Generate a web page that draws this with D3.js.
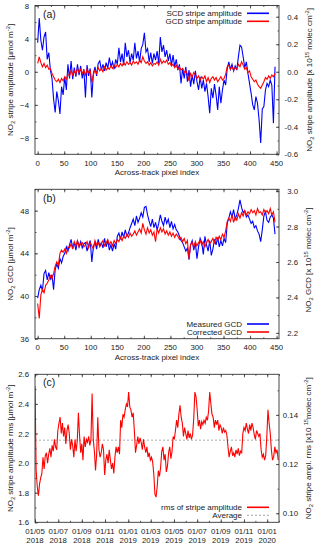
<!DOCTYPE html>
<html><head><meta charset="utf-8">
<script src="https://cdn.jsdelivr.net/npm/d3@7"></script>
<style>
body{margin:0;background:#fff}
svg{display:block}
text{font-family:"Liberation Sans",Arial,Helvetica,sans-serif;fill:#1a1a1a}
</style>
</head><body>
<svg id="chart" width="320" height="545"></svg>
<script>
// ---------- DATA ----------
const pixelIndex = d3.range(0, 450, 3);           // across-track pixel index (every 3rd)
const xTicksPix = [0,50,100,150,200,250,300,350,400,450];

// (a) stripe amplitude [µmol m-2]
const scdAmp = [
 3.5,6.5,3.8,2.6,4.2,4.8,1.5,2.3,0.2,-0.8,
 -3.3,-4.9,-2.4,-3.5,-5.1,-1.8,-2.8,-0.6,-2.2,0.9,
 -0.8,1.3,-0.9,0.5,-0.6,0.9,-0.4,0.7,-0.8,0.3,
 -3.1,0.8,-0.5,0.4,-3.1,-0.2,0.6,-0.5,1.0,1.3,
 0.2,0.9,0.1,1.1,0.4,1.7,0.6,1.2,0.3,1.5,
 0.9,2.9,1.2,2.2,0.8,3.5,1.8,2.6,1.1,2.2,
 1.4,3.5,1.6,2.5,1.2,2.8,3.3,4.7,2.4,2.8,
 1.2,2.3,1.0,2.2,1.4,2.5,1.0,4.2,2.4,3.2,
 1.8,2.6,1.3,2.2,0.8,2.0,0.6,1.5,0.2,0.9,
 -1.4,0.4,-0.8,0.6,-1.2,0.2,-1.8,-0.4,-1.5,0.1,
 -1.2,-2.2,-0.6,-2.0,-1.0,-2.4,-1.4,-3.0,-5.0,-2.0,
 -3.2,-1.5,-2.8,-4.6,-1.8,-3.8,-2.2,-1.0,-1.6,0.4,
 1.2,0.3,0.9,0.1,0.7,0.2,1.8,3.2,3.0,1.8,
 0.5,1.2,-0.2,-1.4,-2.6,-4.0,-4.6,-3.0,-3.8,-5.8,
 -8.6,-4.5,-4.2,-2.2,-1.4,-1.8,-1.0,-1.6,-6.2,0.6];
const gcdAmp = [
 1.0,1.8,1.1,0.6,1.0,0.5,0.8,0.3,0.4,-0.2,
 -0.6,-1.0,-1.2,-0.9,-1.3,-0.8,-1.1,-0.6,-0.9,-0.3,
 -0.5,0.2,-0.4,0.1,-0.3,0.4,-0.1,0.3,-0.2,0.2,
 -0.4,0.3,-0.1,0.1,-1.3,-0.3,0.2,-0.2,0.5,0.1,
 0.4,0.0,0.6,0.2,0.5,0.3,0.7,0.4,0.8,0.5,
 0.9,0.6,1.0,0.7,1.1,0.8,1.2,0.9,1.1,0.8,
 1.3,1.0,1.2,0.9,1.4,1.1,1.8,1.3,1.0,1.2,
 0.8,1.1,0.7,1.0,0.9,1.2,0.8,1.5,1.0,1.3,
 1.1,1.4,0.9,1.1,0.7,0.9,0.5,0.8,0.3,0.6,
 0.2,0.4,-0.1,0.2,-0.3,-1.1,-0.2,-0.6,-0.1,-0.4,
 -0.8,-0.5,-1.0,-0.6,-0.9,-0.5,-1.2,-0.7,-1.3,-0.8,
 -0.6,-1.0,-0.7,-1.2,-0.9,-0.6,-1.0,-0.8,-0.3,0.6,
 0.8,0.3,0.6,0.2,0.5,0.3,0.9,0.6,1.2,0.8,
 0.3,0.5,-0.1,0.1,-0.6,-0.9,-1.2,-1.0,-1.5,-1.8,
 -2.0,-1.6,-1.2,-0.7,-0.9,-0.5,-0.8,-0.4,-0.6,-0.2];

// (b) geometric column density [µmol m-2]
const measuredGCD = [
 39.8,40.6,41.0,40.5,42.1,42.4,41.5,42.2,41.6,42.0,
 40.6,42.5,43.0,42.6,43.5,43.1,43.7,44.0,44.6,44.2,
 44.8,45.3,44.5,45.0,44.3,45.2,44.6,45.1,44.5,44.9,
 45.0,44.2,44.8,45.2,43.2,44.6,45.1,44.4,45.3,44.7,
 45.0,44.5,45.4,44.6,45.2,44.3,44.8,44.2,44.9,44.4,
 45.6,45.9,45.3,46.0,45.5,46.2,45.6,45.9,46.4,46.8,
 47.2,46.6,47.5,46.9,47.3,47.8,47.4,48.3,48.4,47.6,
 47.0,46.5,47.2,46.4,46.9,46.2,46.8,47.6,47.0,46.6,
 47.4,46.8,47.2,46.4,47.0,46.3,46.7,46.2,46.0,45.6,
 45.2,45.0,44.6,44.2,44.5,43.4,44.8,45.2,44.3,45.0,
 43.5,44.6,45.4,45.0,43.9,45.6,44.8,44.2,45.2,43.8,
 44.4,45.3,44.8,45.5,44.6,45.2,44.7,45.4,45.0,46.8,
 47.3,47.9,47.4,48.1,47.2,47.6,48.2,49.0,48.3,47.8,
 48.0,47.4,47.6,47.2,46.8,47.0,46.4,46.6,46.1,45.8,
 45.1,46.2,47.5,47.9,47.1,46.9,47.4,47.6,47.3,45.8];
const correctedGCD = [
 39.3,37.9,40.1,40.6,40.3,41.0,41.2,41.5,41.9,41.6,
 42.1,42.8,43.2,42.9,44.0,44.3,44.1,44.4,44.0,44.6,
 44.5,44.9,44.4,45.1,44.7,45.2,44.6,44.9,45.0,44.6,
 44.8,45.1,44.5,45.0,44.7,44.4,45.2,44.8,45.0,44.6,
 44.9,45.2,44.7,45.0,45.3,44.8,45.1,44.7,45.2,44.9,
 45.3,45.1,45.5,45.2,45.6,45.4,45.8,45.5,45.9,45.6,
 45.8,46.1,45.7,46.0,46.3,45.9,46.8,46.2,45.8,46.4,
 45.9,46.2,45.7,46.0,45.1,46.3,45.9,46.4,46.0,46.3,
 45.8,46.1,45.7,46.0,45.6,45.9,45.5,45.8,45.6,45.3,
 45.5,45.1,45.4,44.9,45.2,43.5,44.8,45.0,44.6,45.1,
 44.7,45.0,45.2,44.8,45.1,44.6,45.0,45.3,44.9,45.1,
 45.4,45.0,45.5,45.2,45.6,45.3,45.8,45.5,46.1,47.0,
 47.3,47.0,47.6,46.9,47.4,47.1,47.7,47.3,47.8,47.5,
 48.0,47.6,47.9,47.7,48.1,47.8,48.0,47.6,48.2,47.8,
 47.9,47.6,48.1,47.8,48.0,47.7,48.2,47.6,47.9,46.9];

// (c) rms of stripe amplitude [µmol m-2], every 3rd day from 2018-05-01
const rmsStart = Date.UTC(2018, 4, 1);
const rmsAmp = [
 2.52,1.95,1.84,1.78,1.86,1.90,1.93,2.04,1.96,2.05,
 2.07,2.00,2.06,2.10,2.04,2.12,2.08,2.16,2.11,2.09,
 2.22,2.27,2.31,2.20,2.27,2.18,2.24,2.13,2.22,2.26,
 2.20,2.09,2.16,2.12,2.04,2.16,2.08,2.15,2.34,2.19,
 2.07,2.13,2.02,2.18,2.11,2.16,2.14,2.18,2.12,2.16,
 2.47,2.16,2.08,1.95,2.06,2.31,2.09,2.04,2.07,2.13,
 2.09,1.92,2.02,2.06,2.00,2.09,2.02,1.96,2.00,1.93,
 2.04,2.11,2.07,2.11,2.06,2.29,2.24,2.33,2.31,2.36,
 2.40,2.38,2.48,2.38,2.36,2.31,2.34,2.22,2.07,2.12,
 2.18,2.13,2.17,2.14,2.09,2.16,2.11,2.07,2.11,2.04,
 2.07,2.02,2.04,2.01,1.93,1.79,1.77,1.84,1.95,1.91,
 1.97,2.08,2.11,2.02,2.06,1.94,1.98,2.07,2.11,2.03,
 2.08,2.18,2.16,2.22,2.29,2.24,2.33,2.39,2.31,2.27,
 2.18,2.24,2.20,2.16,2.22,2.17,2.20,2.16,2.19,2.30,
 2.48,2.45,2.36,2.25,2.29,2.23,2.28,2.26,2.29,2.27,
 2.31,2.29,2.35,2.48,2.40,2.33,2.31,2.24,2.29,2.26,
 2.29,2.22,2.26,2.24,2.20,2.24,2.21,2.22,2.19,2.11,
 2.04,2.08,2.11,2.05,2.07,2.04,2.09,2.06,2.10,2.05,
 2.08,2.07,2.20,2.24,2.22,2.27,2.23,2.20,2.26,2.22,
 2.27,2.24,2.19,2.16,2.22,2.20,2.18,2.20,2.09,2.04,
 2.06,2.02,2.05,2.18,2.36,2.27,2.20,2.09,2.02,2.04,
 2.11,2.07,2.09,2.02];
const rmsDates = rmsAmp.map((v,i) => d3.utcDay.offset(new Date(rmsStart), i*3));
const rmsAverage = 2.155;

const CONV = 0.0602;   // 1 µmol m-2 = 0.0602 x 10^15 molec cm-2

// ---------- LAYOUT ----------
const L = 35, R = 279;
const svg = d3.select("#chart");
svg.append("rect").attr("width",320).attr("height",545).attr("fill","#fff");
const FRAME = "#333";
const TICKF = 7.8, LABF = 8;
const BLUE = "#0000ff", RED = "#ff0000";

const xPix = d3.scaleLinear().domain([-5, 454.5]).range([L, R]);
const xDate = d3.scaleUtc().domain([new Date(Date.UTC(2018,4,1)), new Date(Date.UTC(2020,1,1))]).range([L, R]);

function styleAxis(g){
  g.select(".domain").remove();
  g.selectAll("line").attr("stroke", FRAME).attr("stroke-width",0.8);
  g.selectAll("text").attr("font-size", TICKF).attr("fill","#1a1a1a")
   .attr("font-family",'"Liberation Sans",Arial,sans-serif');
}

// rich text: array of [str, kind] kind: n | sub | sup
function richText(sel, parts, fs){
  let shift = 0;
  parts.forEach(([s,k]) => {
    const t = sel.append("tspan").text(s);
    let target = k==="sub" ? 1.8 : k==="sup" ? -3 : 0;
    t.attr("dy", target - shift); shift = target;
    if (k!=="n") t.attr("font-size", fs*0.72);
  });
}

function yTitle(x, yc, parts){
  const t = svg.append("text").attr("transform",`translate(${x},${yc}) rotate(-90)`)
    .attr("text-anchor","middle").attr("font-size",LABF);
  richText(t, parts, LABF);
}

function panel(cfg){
  const {top, bottom, yL, yR, ticksL, minorL, ticksR, minorR, fmtL, fmtR, x, xMajor, xMinor} = cfg;
  svg.append("rect").attr("x",L).attr("y",top).attr("width",R-L).attr("height",bottom-top)
     .attr("fill","none").attr("stroke",FRAME).attr("stroke-width",0.9);
  svg.append("g").attr("transform",`translate(${L},0)`)
    .call(d3.axisLeft(yL).tickValues(minorL).tickSize(-1.5).tickFormat("")).call(styleAxis);
  svg.append("g").attr("transform",`translate(${L},0)`)
    .call(d3.axisLeft(yL).tickValues(ticksL).tickSize(-3).tickPadding(6).tickFormat(fmtL)).call(styleAxis);
  svg.append("g").attr("transform",`translate(${R},0)`)
    .call(d3.axisRight(yR).tickValues(minorR).tickSize(-1.5).tickFormat("")).call(styleAxis);
  const gr = svg.append("g").attr("transform",`translate(${R},0)`)
    .call(d3.axisRight(yR).tickValues(ticksR).tickSize(-3).tickFormat(fmtR)).call(styleAxis);
  gr.selectAll("text").attr("text-anchor","end").attr("x",19);
  [[top, 1],[bottom, -1]].forEach(([yy, dir])=>{
    svg.append("g").attr("transform",`translate(0,${yy})`)
      .call((dir>0 ? d3.axisTop(x) : d3.axisBottom(x)).tickValues(xMinor).tickSize(-1.5).tickFormat("")).call(styleAxis);
    svg.append("g").attr("transform",`translate(0,${yy})`)
      .call((dir>0 ? d3.axisTop(x) : d3.axisBottom(x)).tickValues(xMajor).tickSize(-3).tickFormat("")).call(styleAxis);
  });
}

function legend(y0, items){
  items.forEach((it,i)=>{
    const y = y0 + i*8;
    svg.append("text").attr("x",242).attr("y",y).attr("dy","0.35em")
      .attr("text-anchor","end").attr("font-size",LABF).text(it.label);
    svg.append("line").attr("x1",247).attr("x2",269).attr("y1",y).attr("y2",y)
      .attr("stroke",it.color).attr("stroke-width",it.dash?0.9:1.6)
      .attr("stroke-dasharray",it.dash||null);
  });
}

function pixelXLabels(bottom){
  xTicksPix.forEach(v=>{
    svg.append("text").attr("x",xPix(v)).attr("y",bottom+9).attr("dy","0.35em")
      .attr("text-anchor","middle").attr("font-size",TICKF).text(v);
  });
  svg.append("text").attr("x",(L+R)/2).attr("y",bottom+18).attr("dy","0.35em")
    .attr("text-anchor","middle").attr("font-size",LABF).text("Across-track pixel index");
}

function panelLetter(txt, y){
  svg.append("text").attr("x",43).attr("y",y).attr("dy","0.35em").attr("font-size",10.5).text(txt);
}

const clip = (id, top, bottom) => {
  svg.append("clipPath").attr("id",id).append("rect").attr("x",L).attr("y",top).attr("width",R-L).attr("height",bottom-top);
};

// ---------- PANEL A ----------
{
  const top = 5.5, bottom = 154.3;
  const yL = d3.scaleLinear().domain([-0.6/CONV, 0.4816/CONV]).range([bottom, top]);
  const yR = d3.scaleLinear().domain(yL.domain().map(d=>d*CONV)).range([bottom, top]);
  clip("ca", top, bottom);
  const line = d3.line().x((d,i)=>xPix(pixelIndex[i])).y(d=>yL(d));
  const g = svg.append("g").attr("clip-path","url(#ca)");
  g.append("path").datum(scdAmp).attr("d",line).attr("fill","none").attr("stroke",BLUE).attr("stroke-width",1.1);
  g.append("path").datum(gcdAmp).attr("d",line).attr("fill","none").attr("stroke",RED).attr("stroke-width",1.1);
  panel({top, bottom, yL, yR,
    ticksL:[-8,-4,0,4,8], minorL:d3.range(-8,9,2), fmtL:d3.format("d"),
    ticksR:[-0.6,-0.4,-0.2,0,0.2,0.4], minorR:d3.range(-6,5,1).map(d=>d/10), fmtR:d=>d3.format(".1f")(d).replace("−","-"),
    x:xPix, xMajor:xTicksPix, xMinor:d3.range(0,451,25)});
  pixelXLabels(bottom);
  panelLetter("(a)", 14);
  legend(13.3, [{label:"SCD stripe amplitude", color:BLUE},{label:"GCD stripe amplitude", color:RED}]);
  yTitle(13, (top+bottom)/2, [["NO","n"],["2","sub"],[" stripe amplitude  [µmol m","n"],["-2","sup"],["]","n"]]);
  yTitle(312, (top+bottom)/2, [["NO","n"],["2","sub"],[" stripe amplitude [x 10","n"],["15","sup"],[" molec cm","n"],["-2","sup"],["]","n"]]);
}

// ---------- PANEL B ----------
{
  const top = 189.3, bottom = 338.7;
  const yL = d3.scaleLinear().domain([36, 50]).range([bottom, top]);
  const yR = d3.scaleLinear().domain([36*CONV, 50*CONV]).range([bottom, top]);
  clip("cb", top, bottom);
  const line = d3.line().x((d,i)=>xPix(pixelIndex[i])).y(d=>yL(d));
  const g = svg.append("g").attr("clip-path","url(#cb)");
  g.append("path").datum(measuredGCD).attr("d",line).attr("fill","none").attr("stroke",BLUE).attr("stroke-width",1.1);
  g.append("path").datum(correctedGCD).attr("d",line).attr("fill","none").attr("stroke",RED).attr("stroke-width",1.1);
  panel({top, bottom, yL, yR,
    ticksL:[36,40,44,48], minorL:d3.range(36,51,2), fmtL:d3.format("d"),
    ticksR:[2.2,2.4,2.6,2.8,3.0], minorR:d3.range(22,31,1).map(d=>d/10), fmtR:d3.format(".1f"),
    x:xPix, xMajor:xTicksPix, xMinor:d3.range(0,451,25)});
  pixelXLabels(bottom);
  panelLetter("(b)", 198.8);
  legend(324, [{label:"Measured GCD", color:BLUE},{label:"Corrected GCD", color:RED}]);
  yTitle(13, (top+bottom)/2, [["NO","n"],["2","sub"],[" GCD  [µmol m","n"],["-2","sup"],["]","n"]]);
  yTitle(311, (top+bottom)/2 - 4, [["NO","n"],["2","sub"],[" GCD  [x 10","n"],["15","sup"],[" molec cm","n"],["-2","sup"],["]","n"]]);
}

// ---------- PANEL C ----------
{
  const top = 374.3, bottom = 522.3;
  const yL = d3.scaleLinear().domain([1.6, 2.6]).range([bottom, top]);
  const yR = d3.scaleLinear().domain([1.6*CONV, 2.6*CONV]).range([bottom, top]);
  clip("cc", top, bottom);
  const g = svg.append("g").attr("clip-path","url(#cc)");
  g.append("line").attr("x1",L).attr("x2",R).attr("y1",yL(rmsAverage)).attr("y2",yL(rmsAverage))
    .attr("stroke","#999").attr("stroke-width",0.8).attr("stroke-dasharray","2,2");
  const line = d3.line().x((d,i)=>xDate(rmsDates[i])).y(d=>yL(d));
  g.append("path").datum(rmsAmp).attr("d",line).attr("fill","none").attr("stroke",RED).attr("stroke-width",1.1);
  const major = d3.utcMonth.every(2).range(new Date(Date.UTC(2018,4,1)), new Date(Date.UTC(2020,0,2)));
  const minor = d3.utcMonth.range(new Date(Date.UTC(2018,4,1)), new Date(Date.UTC(2020,1,2)));
  panel({top, bottom, yL, yR,
    ticksL:[1.6,1.8,2.0,2.2,2.4,2.6], minorL:d3.range(16,27,1).map(d=>d/10), fmtL:d3.format(".1f"),
    ticksR:[0.10,0.12,0.14], minorR:d3.range(10,16,1).map(d=>d/100), fmtR:d3.format(".2f"),
    x:xDate, xMajor:major, xMinor:minor});
  major.forEach(d=>{
    const t = svg.append("text").attr("x",xDate(d)).attr("y",bottom+9.4).attr("dy","0.35em")
      .attr("text-anchor","middle").attr("font-size",TICKF);
    t.append("tspan").attr("x",xDate(d)).text(d3.utcFormat("%d/%m")(d));
    t.append("tspan").attr("x",xDate(d)).attr("dy","1.1em").text(d3.utcFormat("%Y")(d));
  });
  panelLetter("(c)", 382.5);
  legend(507.3, [{label:"rms of stripe amplitude", color:RED},{label:"Average", color:"#999", dash:"2,2"}]);
  yTitle(13, (top+bottom)/2, [["NO","n"],["2","sub"],[" stripe amplitude rms  [µmol m","n"],["-2","sup"],["]","n"]]);
  yTitle(311, (top+bottom)/2, [["NO","n"],["2","sub"],[" stripe ampl. rms  [x10  ","n"],["15","sup"],["molec cm","n"],["-2","sup"],["]","n"]]);
}
</script>
</body></html>
